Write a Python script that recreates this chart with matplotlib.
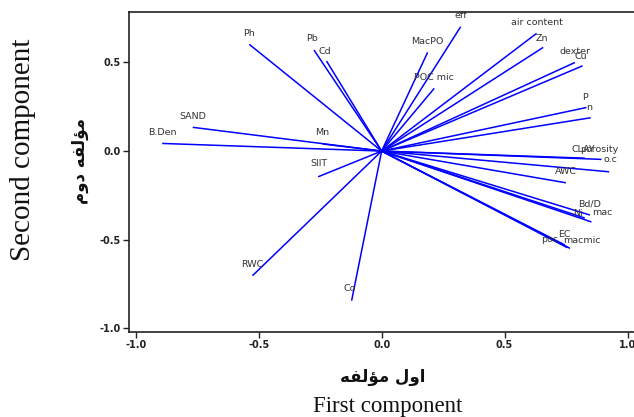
import matplotlib
matplotlib.use("Agg")
import matplotlib.pyplot as plt

# PCA loadings (first / second component)
variables = ["Ph", "Pb", "Cd", "SAND", "B.Den", "Mn", "SIlT", "RWC", "Co",
             "eff", "MacPO", "POC mic", "air content", "Zn", "dexter", "Cu",
             "P", "n", "CLAY", "porosity", "o.c", "AWC", "Bd/D", "Ni", "mac",
             "EC", "poc", "macmic"]
pc1 = [-0.538, -0.275, -0.224, -0.768, -0.892, -0.240, -0.258, -0.525, -0.122,
       0.321, 0.187, 0.214, 0.630, 0.657, 0.786, 0.817,
       0.833, 0.850, 0.826, 0.894, 0.925, 0.749, 0.847, 0.826, 0.853,
       0.766, 0.745, 0.755]
pc2 = [0.602, 0.570, 0.508, 0.134, 0.043, 0.040, -0.145, -0.703, -0.844,
       0.701, 0.557, 0.354, 0.664, 0.585, 0.500, 0.481,
       0.246, 0.188, -0.040, -0.047, -0.117, -0.179, -0.361, -0.378, -0.400,
       -0.549, -0.530, -0.545]

x_ticks = [-1.0, -0.5, 0.0, 0.5, 1.0]
y_ticks = [-1.0, -0.5, 0.0, 0.5]

# label placement relative to the arrow tip, in pixels (default: centred above)
label_offsets = {"Pb": (-2, 12), "Cd": (-2, 10), "SIlT": (1, 13), "Co": (-2, 12),
                 "Zn": (-1, 9), "Cu": (-2, 9), "P": (-2, 10), "n": (-2, 10),
                 "CLAY": (-1, 9), "porosity": (-2, 10), "o.c": (1, 12),
                 "Ni": (-7, 5), "mac": (11, 9), "EC": (-6, 14),
                 "poc": (-15, 5), "macmic": (15, 7)}

# Persian titles, written in presentation forms (visual order)
moallefe = "\ufeea\ufed4\ufedf\ufe86\ufee3"
avval = "\ufedd\ufeed\ufe8d"
dovvom = "\ufee1\ufeed\ufea9"

fig = plt.figure(figsize=(6.34, 4.17), dpi=100)
ax = fig.add_axes([0.2035, 0.2038, 0.7965, 0.768])

for name, x, y in zip(variables, pc1, pc2):
    ax.plot([0, x], [0, y], color="#0000ff", lw=1.1, solid_capstyle="butt")
    dx, dy = label_offsets.get(name, (0, 11))
    ax.annotate(name, (x, y), xytext=(dx, dy), textcoords="offset pixels",
                ha="center", va="center", fontsize=6.8, color="#333333")

ax.set_xlim(-1.027, 1.026)
ax.set_ylim(-1.021, 0.786)
ax.set_xticks(x_ticks)
ax.set_yticks(y_ticks)
ax.set_xticklabels([f"{t:.1f}" for t in x_ticks])
ax.set_yticklabels([f"{t:.1f}" for t in y_ticks])
ax.tick_params(direction="out", length=4, width=1, labelsize=7, colors="#222222",
               pad=2)
for lbl in ax.get_xticklabels() + ax.get_yticklabels():
    lbl.set_fontweight("bold")
ax.spines["right"].set_visible(False)
for s in ["left", "bottom", "top"]:
    ax.spines[s].set_linewidth(1.2)
    ax.spines[s].set_color("#222222")

fig.text(0.036, 0.64, "Second component", rotation=90, ha="center", va="center",
         family="Liberation Serif", fontsize=21, color="#111111")
fig.text(0.126, 0.614, dovvom + " " + moallefe, rotation=90, ha="center",
         va="center", family="DejaVu Sans", fontweight="bold", fontsize=12,
         color="#111111")
fig.text(0.612, 0.026, "First component", ha="center", va="center",
         family="Liberation Serif", fontsize=16.5, color="#111111")
fig.text(0.603, 0.096, moallefe + " " + avval, ha="center", va="center",
         family="DejaVu Sans", fontweight="bold", fontsize=12, color="#111111")

fig.savefig("out.png", dpi=100)
